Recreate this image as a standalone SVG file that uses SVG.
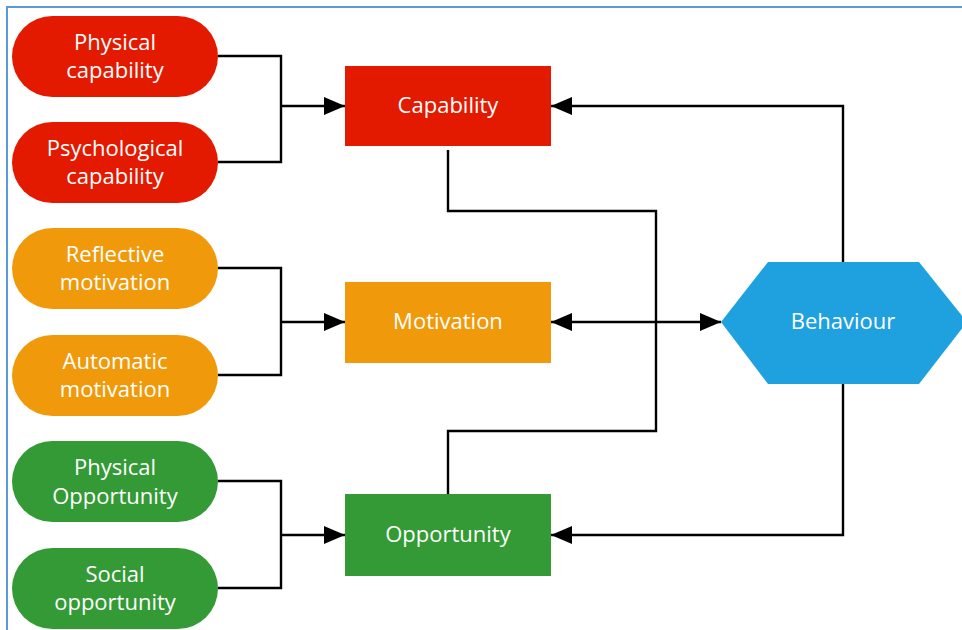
<svg xmlns="http://www.w3.org/2000/svg" width="962" height="630" viewBox="0 0 962 630">
<defs>
<marker id="ah" viewBox="0 0 21 18" refX="21" refY="9" markerWidth="21" markerHeight="18" markerUnits="userSpaceOnUse" orient="auto-start-reverse">
<path d="M0,0 L21,9 L0,18 Z" fill="#000"/>
</marker>
<style>
.t{font-family:"Open Sans","Noto Sans","DejaVu Sans",sans-serif;font-size:22px;fill:#fff;text-anchor:middle;dominant-baseline:central}
.c{fill:none;stroke:#000;stroke-width:2.4}
.red{fill:#E31A00}.org{fill:#F09A0B}.grn{fill:#339A35}.blu{fill:#1FA1E0}
</style>
</defs>
<rect width="962" height="630" fill="#fff"/>
<path d="M7,630 V7 H962" fill="none" stroke="#5B9BD5" stroke-width="2"/>
<g id="connectors">
<path class="c" d="M218,56 H281 V162 H218"/>
<path class="c" d="M281,106 H345" marker-end="url(#ah)"/>
<path class="c" d="M218,268 H281 V375 H218"/>
<path class="c" d="M281,322 H345" marker-end="url(#ah)"/>
<path class="c" d="M218,481 H281 V588 H218"/>
<path class="c" d="M281,535 H345" marker-end="url(#ah)"/>
<path class="c" d="M448,150 V211 H656 V431 H448 V494"/>
<path class="c" d="M551,322 H721" marker-start="url(#ah)" marker-end="url(#ah)"/>
<path class="c" d="M843,262 V106 H551" marker-end="url(#ah)"/>
<path class="c" d="M843,384 V535 H551" marker-end="url(#ah)"/>
</g>
<g id="physical-capability"><rect class="red" x="12" y="16" width="206" height="81" rx="40.5"/><text class="t" x="115" y="41">Physical</text><text class="t" x="115" y="69">capability</text></g>
<g id="psychological-capability"><rect class="red" x="12" y="122" width="206" height="81" rx="40.5"/><text class="t" x="115" y="147">Psychological</text><text class="t" x="115" y="175">capability</text></g>
<g id="reflective-motivation"><rect class="org" x="12" y="228" width="206" height="81" rx="40.5"/><text class="t" x="115" y="253">Reflective</text><text class="t" x="115" y="281">motivation</text></g>
<g id="automatic-motivation"><rect class="org" x="12" y="335" width="206" height="81" rx="40.5"/><text class="t" x="115" y="360">Automatic</text><text class="t" x="115" y="388">motivation</text></g>
<g id="physical-opportunity"><rect class="grn" x="12" y="441" width="206" height="81" rx="40.5"/><text class="t" x="115" y="466">Physical</text><text class="t" x="115" y="495">Opportunity</text></g>
<g id="social-opportunity"><rect class="grn" x="12" y="548" width="206" height="81" rx="40.5"/><text class="t" x="115" y="573">Social</text><text class="t" x="115" y="601">opportunity</text></g>
<g id="capability"><rect class="red" x="345" y="66" width="206" height="80"/><text class="t" x="448" y="104">Capability</text></g>
<g id="motivation"><rect class="org" x="345" y="282" width="206" height="81"/><text class="t" x="448" y="320">Motivation</text></g>
<g id="opportunity"><rect class="grn" x="345" y="494" width="206" height="82"/><text class="t" x="448" y="533">Opportunity</text></g>
<g id="behaviour"><path class="blu" d="M721,322 L768,262 H919 L967,322 L919,384 H768 Z"/><text class="t" x="843" y="320">Behaviour</text></g>
</svg>
